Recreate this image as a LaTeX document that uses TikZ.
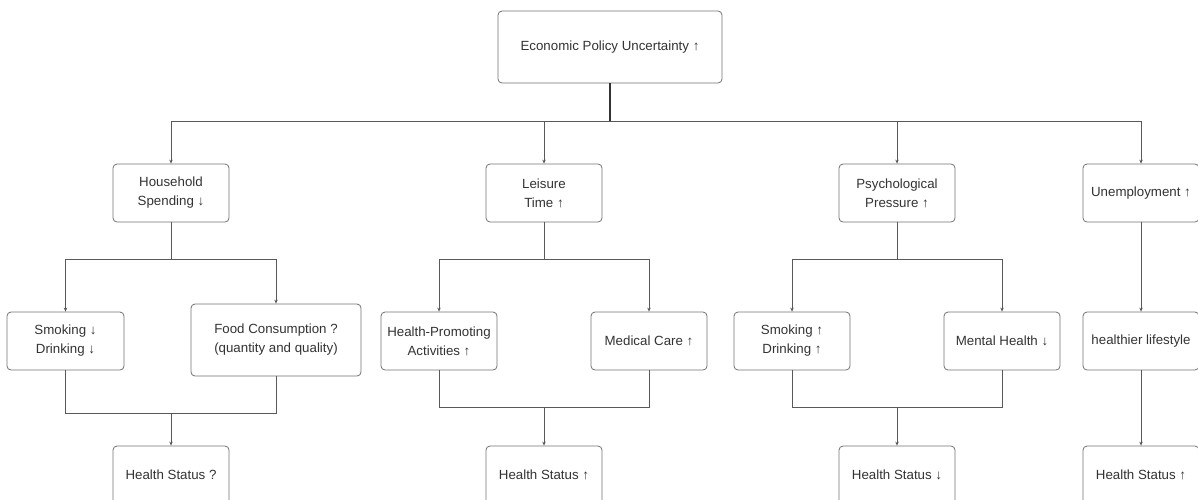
\documentclass[tikz,border=0pt]{standalone}
\usepackage{fontspec}
\setmainfont{Liberation Sans}
\usetikzlibrary{arrows.meta}
\begin{document}
\begin{tikzpicture}[x=1pt,y=-1pt,
  box/.style={draw=black!55, line width=0.8pt, rounded corners=4pt, fill=white,
    minimum width=116pt, minimum height=58pt, align=center, inner sep=2pt,
    text=black!80, font=\fontsize{13.3}{19}\selectfont},
  link/.style={draw=black!65, line width=0.9pt},
  arr/.style={link, -{Stealth[length=4pt,width=3.5pt]}}]
\useasboundingbox (0,0) rectangle (1198,499);
\clip (0,0) rectangle (1198,499);
% top
\node[box, minimum width=224pt, minimum height=72pt] (top) at (610,47) {Economic Policy Uncertainty ↑};
% level 2
\node[box] (hs) at (171,193) {Household\\Spending ↓};
\node[box] (lt) at (544,193) {Leisure\\Time ↑};
\node[box] (pp) at (897,193) {Psychological\\Pressure ↑};
\node[box] (un) at (1141,193) {Unemployment ↑};
% level 3
\node[box, minimum width=117pt] (sd1) at (65.5,341) {Smoking ↓\\Drinking ↓};
\node[box, minimum width=170pt, minimum height=72pt] (food) at (276,340) {Food Consumption ?\\(quantity and quality)};
\node[box] (hpa) at (439,341) {Health-Promoting\\Activities ↑};
\node[box] (mc) at (649,341) {Medical Care ↑};
\node[box] (sd2) at (792,341) {Smoking ↑\\Drinking ↑};
\node[box] (mh) at (1002,341) {Mental Health ↓};
\node[box] (hl) at (1141,341) {healthier lifestyle};
% level 4
\node[box] (h1) at (171,475) {Health Status ?};
\node[box] (h2) at (544,475) {Health Status ↑};
\node[box] (h3) at (897,475) {Health Status ↓};
\node[box] (h4) at (1141,475) {Health Status ↑};
% junctions
\coordinate (bus) at (610,121);
\coordinate (b1) at (171,259);
\coordinate (b2) at (544,259);
\coordinate (b3) at (897,259);
\coordinate (m1) at (171,413);
\coordinate (m2) at (544,407);
\coordinate (m3) at (897,407);
% top to level 2
\draw[link, line width=1.2pt, draw=black!80] (top.south) -- (bus);
\draw[arr] (bus) -| (hs.north);
\draw[arr] (bus) -| (lt.north);
\draw[arr] (bus) -| (pp.north);
\draw[arr] (bus) -| (un.north);
% level 2 to level 3
\draw[link] (hs.south) -- (b1);
\draw[arr] (b1) -| (sd1.north);
\draw[arr] (b1) -| (food.north);
\draw[link] (lt.south) -- (b2);
\draw[arr] (b2) -| (hpa.north);
\draw[arr] (b2) -| (mc.north);
\draw[link] (pp.south) -- (b3);
\draw[arr] (b3) -| (sd2.north);
\draw[arr] (b3) -| (mh.north);
\draw[arr] (un.south) -- (hl.north);
% level 3 to level 4
\draw[link] (sd1.south) |- (m1);
\draw[link] (food.south) |- (m1);
\draw[arr] (m1) -- (h1.north);
\draw[link] (hpa.south) |- (m2);
\draw[link] (mc.south) |- (m2);
\draw[arr] (m2) -- (h2.north);
\draw[link] (sd2.south) |- (m3);
\draw[link] (mh.south) |- (m3);
\draw[arr] (m3) -- (h3.north);
\draw[arr] (hl.south) -- (h4.north);
\end{tikzpicture}
\end{document}
